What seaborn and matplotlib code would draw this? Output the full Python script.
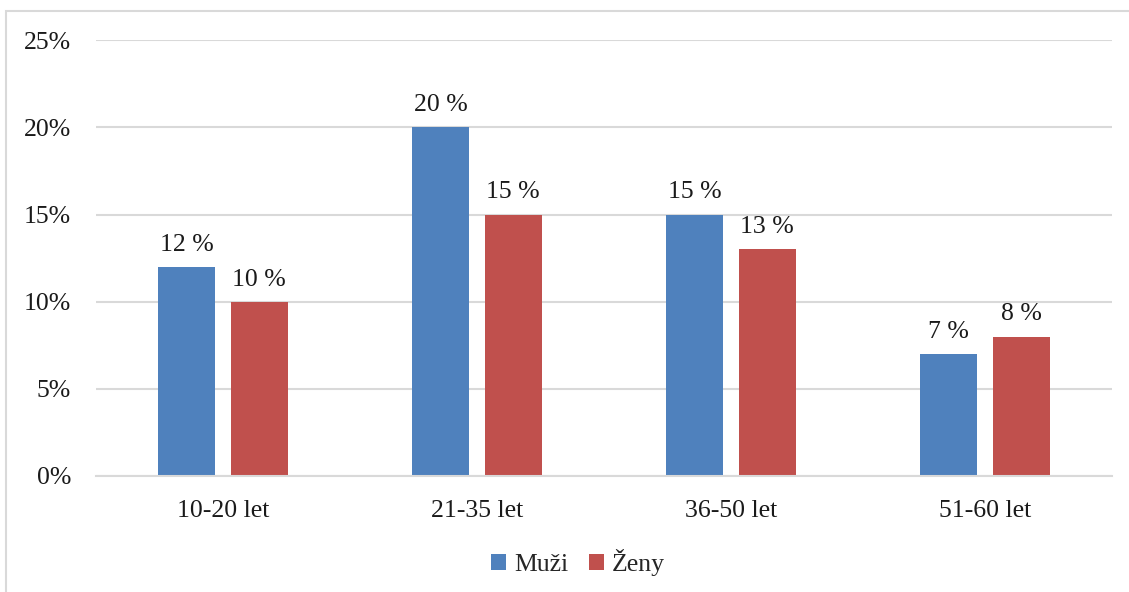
import matplotlib
matplotlib.use("Agg")
import matplotlib.pyplot as plt
from matplotlib.patches import Rectangle
from matplotlib.ticker import FuncFormatter
import pandas as pd
import seaborn as sns

# Age groups and shares per sex (percent)
categories = ["10-20 let", "21-35 let", "36-50 let", "51-60 let"]
series_names = ["Muži", "Ženy"]
muzi = [12, 20, 15, 7]
zeny = [10, 15, 13, 8]
y_ticks = [0, 5, 10, 15, 20, 25]

colors = ["#4F81BD", "#C0504D"]
grid_color = "#D9D9D9"

df = pd.DataFrame({
    "skupina": categories * 2,
    "pohlavi": [series_names[0]] * len(categories) + [series_names[1]] * len(categories),
    "podil": muzi + zeny,
})

sns.set_theme(style="white")
plt.rcParams["font.family"] = ["Liberation Serif", "DejaVu Serif"]

fig = plt.figure(figsize=(11.29, 5.92), dpi=100)
ax = fig.add_axes([0.085, 0.196, 0.9, 0.736])

sns.barplot(
    data=df, x="skupina", y="podil", hue="pohlavi",
    order=categories, hue_order=series_names, palette=colors,
    width=0.57, gap=0.21, saturation=1, linewidth=0, ax=ax, legend=True,
)

for container in ax.containers:
    labels = [f"{v:.0f} %" for v in container.datavalues]
    ax.bar_label(container, labels=labels, padding=8, fontsize=18.5, color="#1a1a1a")

ax.set_ylim(0, 25)
ax.set_xlim(-0.5, len(categories) - 0.5)
ax.set_yticks(y_ticks)
ax.yaxis.set_major_formatter(FuncFormatter(lambda v, _: f"{v:.0f}%"))
ax.yaxis.grid(True, color=grid_color, linewidth=1.5)
ax.set_axisbelow(True)
for side in ["top", "right", "left"]:
    ax.spines[side].set_visible(False)
ax.spines["bottom"].set_color(grid_color)
ax.spines["bottom"].set_linewidth(1.5)
ax.tick_params(axis="both", length=0, labelsize=18.5, colors="#1a1a1a")
ax.tick_params(axis="y", pad=18)
ax.tick_params(axis="x", pad=17)
ax.set_xlabel("")
ax.set_ylabel("")

handles, labels = ax.get_legend_handles_labels()
ax.legend_.remove()
fig.legend(
    handles, labels, loc="center", bbox_to_anchor=(0.512, 0.05),
    ncol=2, frameon=False, fontsize=18.5, handlelength=0.6, handleheight=0.6,
    handletextpad=0.3, columnspacing=0.8,
)

# Light chart-area frame, open at the right and bottom edges
fig.patches.append(Rectangle(
    (6 / 1129, -0.1), 1.2, 1 - 11 / 592 + 0.1,
    transform=fig.transFigure, fill=False, edgecolor=grid_color, linewidth=1.5,
))

fig.savefig("out.png", dpi=100)
